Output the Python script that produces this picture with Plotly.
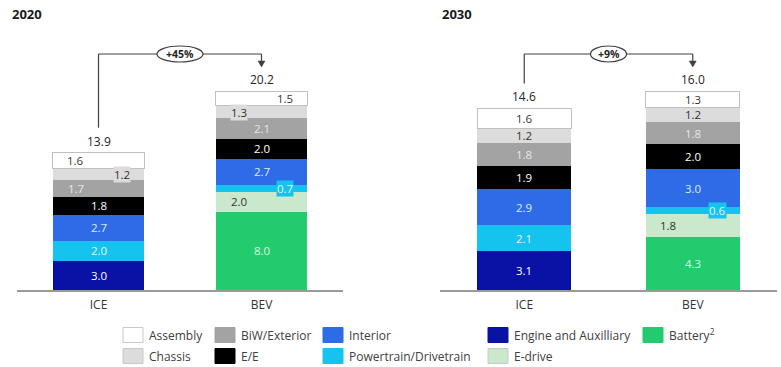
import plotly.graph_objects as go

W, H = 781, 367
FONT = "Open Sans"

# ---------------- data ----------------
categories = ["ICE", "BEV"]
components = ["Engine and Auxilliary", "Battery<sup>2</sup>", "E-drive",
              "Powertrain/Drivetrain", "Interior", "E/E", "BiW/Exterior",
              "Chassis", "Assembly"]
ice_2020 = [3.0, None, None, 2.0, 2.7, 1.8, 1.7, 1.2, 1.6]
bev_2020 = [None, 8.0, 2.0, 0.7, 2.7, 2.0, 2.1, 1.3, 1.5]
ice_2030 = [3.1, None, None, 2.1, 2.9, 1.9, 1.8, 1.2, 1.6]
bev_2030 = [None, 4.3, 1.8, 0.6, 3.0, 2.0, 1.8, 1.2, 1.3]
totals_2020 = ["13.9", "20.2"]
totals_2030 = ["14.6", "16.0"]
years = ["2020", "2030"]
changes = ["+45%", "+9%"]

# ---------------- style ----------------
colors = ["#0a12a6", "#22cc6e", "#c9e8cc", "#16c3ee", "#2d6ce6", "#000000",
          "#a3a3a3", "#dcdcdc", "#ffffff"]
label_colors = ["#ffffff", "#d6f5e0", "#333333", "#e2f6fd", "#dfe9ff", "#ffffff",
                "#e6e6e6", "#333333", "#333333"]
place_2020_ice = ["c", None, None, "c", "c", "c", "l", "rb", "l"]
place_2020_bev = [None, "c", "l", "rb", "c", "c", "c", "lb", "r"]
place_2030_ice = ["c", None, None, "c", "c", "c", "c", "c", "c"]
place_2030_bev = [None, "c", "l", "rb", "c", "c", "c", "c", "c"]

panels = [
    dict(year=years[0], ice=ice_2020, bev=bev_2020, totals=totals_2020, change=changes[0],
         places=[place_2020_ice, place_2020_bev], xdom=[17, 343], title_x=10, off=23, ell_w=46),
    dict(year=years[1], ice=ice_2030, bev=bev_2030, totals=totals_2030, change=changes[1],
         places=[place_2030_ice, place_2030_bev], xdom=[440, 777], title_x=440, off=25, ell_w=36),
]

BASE_PX = 290      # baseline pixel row
TOP_PX = 91        # top of tallest bar
def py(p):         # pixel row -> paper y
    return (H - p) / H

fig = go.Figure()
annotations = []
shapes = []

for k, p in enumerate(panels):
    xa = "x" if k == 0 else "x2"
    ya = "y" if k == 0 else "y2"
    series = [p["ice"], p["bev"]]
    sums = [sum(v for v in s if v is not None) for s in series]
    ymax = max(sums) * BASE_PX / (BASE_PX - TOP_PX)
    pxu = BASE_PX / ymax

    for i, comp in enumerate(components):
        yv = [p["ice"][i], p["bev"][i]]
        last = i == len(components) - 1
        fig.add_trace(go.Bar(
            x=categories, y=yv, name=comp, marker_color=colors[i],
            marker_line=dict(color="#c0c0c0" if last else colors[i], width=1 if last else 0),
            xaxis=xa, yaxis=ya, showlegend=False, width=0.56,
            hoverinfo="name+y"))

    # segment labels
    for c, cat in enumerate(categories):
        cum = 0.0
        for i, v in enumerate(series[c]):
            if v is None:
                continue
            mid = cum + v / 2
            cum += v
            pl = p["places"][c][i]
            shift = 0
            if pl.startswith("l"):
                shift = -p["off"]
            elif pl.startswith("r"):
                shift = p["off"]
            boxed = pl.endswith("b")
            annotations.append(dict(
                x=cat, y=mid, xref=xa, yref=ya, text=f"{v:.1f}", showarrow=False,
                xshift=shift, yanchor="middle",
                font=dict(family=FONT, size=11.5, color=label_colors[i]),
                bgcolor=colors[i] if boxed else None, borderpad=0))
        # totals
        annotations.append(dict(
            x=cat, y=sums[c], xref=xa, yref=ya, text=p["totals"][c], showarrow=False,
            yanchor="bottom", yshift=1, font=dict(family=FONT, size=12, color="#262626")))

    # bracket
    ice_top_px = BASE_PX - sums[0] * pxu
    bev_top_px = BASE_PX - sums[1] * pxu
    line_px = bev_top_px - 37
    tip_px = bev_top_px - 24
    lc = dict(color="#404040", width=1.2)
    shapes.append(dict(type="line", xref=xa, yref="paper", x0=0, x1=0,
                       y0=py(ice_top_px - 25), y1=py(line_px), line=lc))
    shapes.append(dict(type="line", xref=xa, yref="paper", x0=0, x1=1,
                       y0=py(line_px), y1=py(line_px), line=lc))
    shapes.append(dict(type="line", xref=xa, yref="paper", x0=1, x1=1,
                       y0=py(line_px), y1=py(tip_px - 4), line=lc))
    shapes.append(dict(type="path", xref=xa, yref="paper", xsizemode="pixel",
                       ysizemode="pixel", xanchor=1, yanchor=py(tip_px),
                       path="M -3.5 6 L 3.5 6 L 0 0 Z", fillcolor="#404040",
                       line=dict(color="#404040", width=0.5)))
    shapes.append(dict(type="circle", xref=xa, yref="paper", xsizemode="pixel",
                       ysizemode="pixel", xanchor=0.5, yanchor=py(line_px),
                       x0=-p["ell_w"] / 2, x1=p["ell_w"] / 2, y0=-8, y1=8,
                       fillcolor="#ffffff", line=dict(color="#404040", width=1.2)))
    annotations.append(dict(x=0.5, y=py(line_px), xref=xa, yref="paper",
                            text=f"<b>{p['change']}</b>", showarrow=False, yanchor="middle",
                            font=dict(family=FONT, size=10.5, color="#262626")))
    # panel title
    annotations.append(dict(x=p["title_x"] / W, y=py(14), xref="paper", yref="paper",
                            text=f"<b>{p['year']}</b>", showarrow=False,
                            xanchor="left", yanchor="middle",
                            font=dict(family=FONT, size=13, color="#1a1a1a")))

    axis_x = dict(domain=[p["xdom"][0] / W, p["xdom"][1] / W], showline=True,
                  linecolor="#9a9a9a", linewidth=1.5, ticks="outside", ticklen=3,
                  tickcolor="rgba(0,0,0,0)", tickfont=dict(family=FONT, size=12, color="#333333"),
                  showgrid=False, zeroline=False, fixedrange=True)
    axis_y = dict(domain=[py(BASE_PX), 1], range=[0, ymax], visible=False,
                  showgrid=False, zeroline=False, fixedrange=True)
    if k == 0:
        fig.update_layout(xaxis=axis_x, yaxis=axis_y)
    else:
        axis_x["anchor"] = "y2"
        axis_y["anchor"] = "x2"
        fig.update_layout(xaxis2=axis_x, yaxis2=axis_y)

# ---------------- manual legend ----------------
legend_rows = [
    ["Assembly", "BiW/Exterior", "Interior", "Engine and Auxilliary", "Battery<sup>2</sup>"],
    ["Chassis", "E/E", "Powertrain/Drivetrain", "E-drive"],
]
col_x = [123, 215, 323, 488, 643]
row_y = [335, 356]
for r, row in enumerate(legend_rows):
    for c, name in enumerate(row):
        idx = components.index(name)
        x0 = col_x[c]
        light = colors[idx] in ("#ffffff", "#dcdcdc", "#c9e8cc")
        shapes.append(dict(type="rect", xref="paper", yref="paper",
                           x0=x0 / W, x1=(x0 + 20) / W,
                           y0=py(row_y[r] + 7.5), y1=py(row_y[r] - 7.5),
                           fillcolor=colors[idx],
                           line=dict(color="#c8c8c8" if light else colors[idx], width=1)))
        annotations.append(dict(x=(x0 + 24) / W, y=py(row_y[r]), xref="paper", yref="paper",
                                text=name, showarrow=False, xanchor="left", yanchor="middle",
                                font=dict(family=FONT, size=12, color="#404040")))

fig.update_layout(
    width=W, height=H, margin=dict(l=0, r=0, t=0, b=0),
    barmode="stack", plot_bgcolor="#ffffff", paper_bgcolor="#ffffff",
    annotations=annotations, shapes=shapes,
)
fig.write_html("out.html")
